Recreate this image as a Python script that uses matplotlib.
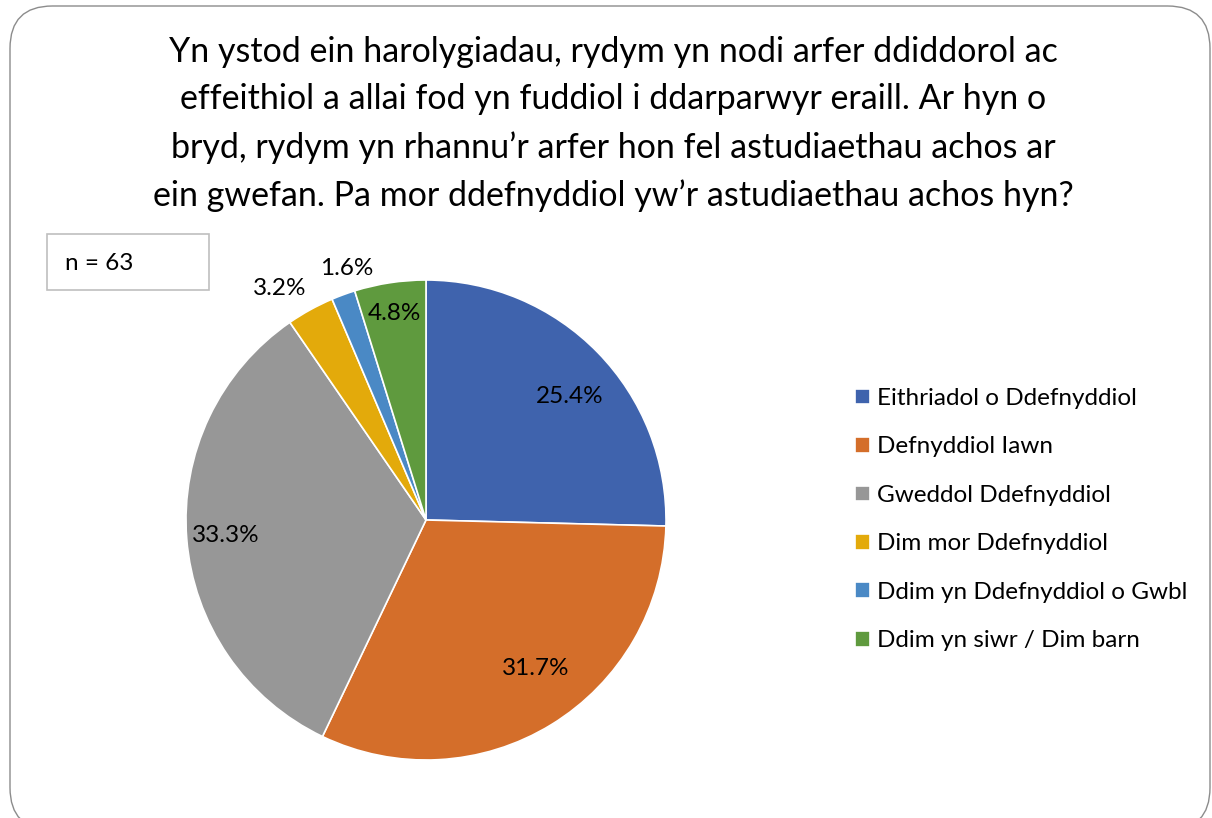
import matplotlib.pyplot as plt
import numpy as np
from matplotlib.patches import FancyBboxPatch, Rectangle

categories = ["Eithriadol o Ddefnyddiol", "Defnyddiol Iawn", "Gweddol Ddefnyddiol",
              "Dim mor Ddefnyddiol", "Ddim yn Ddefnyddiol o Gwbl", "Ddim yn siwr / Dim barn"]
values = [25.4, 31.7, 33.3, 3.2, 1.6, 4.8]
colors = ["#3F63AD", "#D46E2A", "#979797", "#E3AA0B", "#4A89C5", "#5F9A3E"]
# label placement (radius, angle shift in degrees) like Excel's best fit
label_r = [0.79, 0.77, 0.836, 1.14, 1.10, 0.87]
label_shift = [-3.6, 5.0, 0.0, 3.5, -2.6, 0.0]

title = ("Yn ystod ein harolygiadau, rydym yn nodi arfer ddiddorol ac\n"
         "effeithiol a allai fod yn fuddiol i ddarparwyr eraill. Ar hyn o\n"
         "bryd, rydym yn rhannu\u2019r arfer hon fel astudiaethau achos ar\n"
         "ein gwefan. Pa mor ddefnyddiol yw\u2019r astudiaethau achos hyn?")

plt.rcParams['font.family'] = ['Lato', 'DejaVu Sans']

W, H = 1212, 818
fig = plt.figure(figsize=(W / 100, H / 100), dpi=100)

# rounded outer frame
frame = FancyBboxPatch((10 / W, 1 - 830 / H), 1200 / W, 824 / H,
                       boxstyle="round,pad=0,rounding_size=0.035",
                       transform=fig.transFigure, fill=False, ec="#8c8c8c", lw=1.0,
                       mutation_aspect=W / H)
fig.patches.append(frame)

fig.text(613 / W, 1 - 124 / H, title, ha="center", va="center", fontsize=24.5,
         linespacing=1.58, color="black")

# n box
fig.patches.append(Rectangle((47 / W, 1 - 290 / H), 162 / W, 56 / H,
                             transform=fig.transFigure, fill=False, ec="#bfbfbf", lw=1.2))
fig.text(65 / W, 1 - 263 / H, "n = 63", ha="left", va="center", fontsize=17.5)

ax = fig.add_axes([186 / W, 1 - 760 / H, 480 / W, 480 / H])
wedges, _ = ax.pie(values, colors=colors, startangle=90, counterclock=False,
                   wedgeprops=dict(edgecolor="white", linewidth=1.2))
ax.set_xlim(-1, 1)
ax.set_ylim(-1, 1)
ax.set_aspect("equal")
ax.axis("off")

for w, v, r, s in zip(wedges, values, label_r, label_shift):
    ang = np.deg2rad((w.theta1 + w.theta2) / 2 + s)
    ax.text(r * np.cos(ang), r * np.sin(ang), f"{v:.1f}%", ha="center", va="center",
            fontsize=17.5, color="black")

fig.legend(wedges, categories, loc="upper left", bbox_to_anchor=(855 / W, 1 - 388 / H),
           frameon=False, fontsize=17.5, handlelength=0.62, handleheight=0.62,
           handletextpad=0.3, labelspacing=1.13, borderpad=0, borderaxespad=0)

fig.savefig("out.png", dpi=100)
